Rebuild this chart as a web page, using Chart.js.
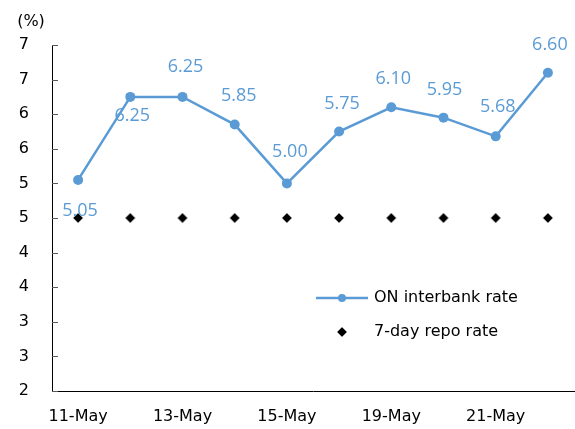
<!DOCTYPE html>
<html>
<head>
<meta charset="utf-8">
<script src="https://cdn.jsdelivr.net/npm/chart.js@4.4.1/dist/chart.umd.min.js"></script>
<style>
  html, body { margin: 0; padding: 0; background: #fff; overflow: hidden; }
  #wrap { width: 575px; height: 429px; position: relative; overflow: hidden; }
  canvas { display: block; }
</style>
</head>
<body>
<div id="wrap"><canvas id="rateChart"></canvas></div>
<script>
// data
const dates = ["11-May", "12-May", "13-May", "14-May", "15-May", "18-May", "19-May", "20-May", "21-May", "22-May"];
const onInterbank = [5.05, 6.25, 6.25, 5.85, 5.00, 5.75, 6.10, 5.95, 5.68, 6.60];
const repoRate = [4.5, 4.5, 4.5, 4.5, 4.5, 4.5, 4.5, 4.5, 4.5, 4.5];
// y labels as printed (Excel "0" format on a 0.5 step)
const yTickLabels = ["2", "3", "3", "4", "4", "5", "5", "6", "6", "7", "7"];
const seriesNames = ["ON interbank rate", "7-day repo rate"];

const BLUE = "#5B9BD5";
const AXIS_FONT = "DejaVu Sans";
const LABEL_FONT = "Open Sans";

// where each value label sits relative to its point
const labelShift = [[2, 31], [2, 19], [3, -30], [4, -29], [3, -32], [3, -28], [2, -28], [1, -28], [2, -29], [2, -28]];

const valueLabels = {
  id: "valueLabels",
  afterDatasetsDraw(chart) {
    const ctx = chart.ctx;
    const meta = chart.getDatasetMeta(0);
    ctx.save();
    ctx.font = "18px '" + LABEL_FONT + "'";
    ctx.fillStyle = BLUE;
    ctx.textAlign = "center";
    ctx.textBaseline = "middle";
    meta.data.forEach((pt, i) => {
      ctx.fillText(onInterbank[i].toFixed(2), pt.x + labelShift[i][0], pt.y + labelShift[i][1]);
    });
    ctx.restore();
  }
};

// inward tick marks on the value axis, unit label, and legend inside the plot
const extras = {
  id: "extras",
  afterDraw(chart) {
    const ctx = chart.ctx;
    const y = chart.scales.y;
    const area = chart.chartArea;
    ctx.save();
    ctx.strokeStyle = "#595959";
    ctx.lineWidth = 1;
    y.ticks.forEach((t, i) => {
      const py = Math.round(y.getPixelForTick(i)) + 0.5;
      ctx.beginPath();
      ctx.moveTo(area.left, py);
      ctx.lineTo(area.left + 6, py);
      ctx.stroke();
    });

    ctx.fillStyle = "#000";
    ctx.font = "16px '" + AXIS_FONT + "'";
    ctx.textAlign = "center";
    ctx.textBaseline = "middle";
    ctx.fillText("(%)", 31, 22);

    // legend
    ctx.textAlign = "left";
    ctx.strokeStyle = BLUE;
    ctx.lineWidth = 2.5;
    ctx.beginPath();
    ctx.moveTo(316, 298);
    ctx.lineTo(368, 298);
    ctx.stroke();
    ctx.fillStyle = BLUE;
    ctx.beginPath();
    ctx.arc(342, 298, 4, 0, Math.PI * 2);
    ctx.fill();
    ctx.fillStyle = "#000";
    ctx.fillText(seriesNames[0], 374, 298);

    ctx.beginPath();
    ctx.moveTo(342, 327);
    ctx.lineTo(347, 332);
    ctx.lineTo(342, 337);
    ctx.lineTo(337, 332);
    ctx.closePath();
    ctx.fillStyle = "#000";
    ctx.fill();
    ctx.strokeStyle = "#aaa";
    ctx.lineWidth = 0.8;
    ctx.stroke();
    ctx.fillStyle = "#000";
    ctx.fillText(seriesNames[1], 374, 332);
    ctx.restore();
  }
};

new Chart(document.getElementById("rateChart"), {
  type: "line",
  data: {
    labels: dates,
    datasets: [
      {
        label: seriesNames[0],
        data: onInterbank,
        borderColor: BLUE,
        backgroundColor: BLUE,
        borderWidth: 2.5,
        pointRadius: 5,
        pointHoverRadius: 5,
        pointBorderWidth: 0,
        tension: 0
      },
      {
        label: seriesNames[1],
        data: repoRate,
        showLine: false,
        pointStyle: "rectRot",
        pointRadius: 5,
        pointHoverRadius: 5,
        backgroundColor: "#000",
        borderColor: "#aaa",
        pointBorderWidth: 0.8
      }
    ]
  },
  options: {
    responsive: true,
    maintainAspectRatio: false,
    animation: false,
    layout: { autoPadding: false, padding: { top: 45, right: 1, left: 0, bottom: 0 } },
    plugins: {
      legend: { display: false },
      tooltip: { enabled: false }
    },
    scales: {
      x: {
        offset: true,
        grid: { display: false, drawTicks: false },
        border: { color: "#000", width: 1 },
        ticks: {
          autoSkip: false,
          maxRotation: 0,
          padding: 16,
          color: "#000",
          font: { family: AXIS_FONT, size: 16 },
          callback: (v, i) => (i % 2 === 0 ? dates[i] : "")
        },
        afterFit: (s) => {
          s.height = 38;
          s.paddingLeft = 0;
          s.paddingRight = 0;
        }
      },
      y: {
        min: 2,
        max: 7,
        grid: { display: false, drawTicks: false },
        border: { color: "#000", width: 1 },
        ticks: {
          stepSize: 0.5,
          padding: 23,
          color: "#000",
          font: { family: AXIS_FONT, size: 16 },
          callback: (v, i) => yTickLabels[i]
        },
        afterFit: (s) => { s.width = 52; }
      }
    }
  },
  plugins: [valueLabels, extras]
});
</script>
</body>
</html>
